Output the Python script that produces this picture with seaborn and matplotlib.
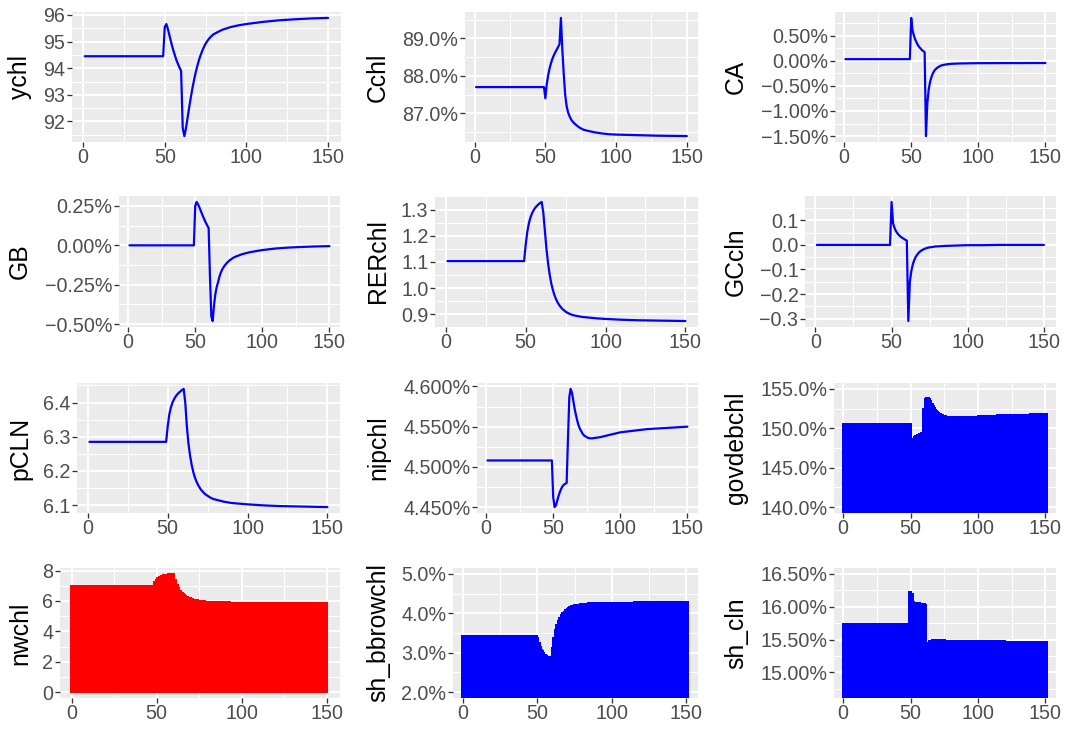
import matplotlib
matplotlib.use("Agg")
import matplotlib.pyplot as plt
from matplotlib.ticker import MultipleLocator, FuncFormatter
from matplotlib.transforms import blended_transform_factory
import seaborn as sns

# ---------------------------------------------------------------- data
# impulse responses, sampled periods for the line panels
T_LINE = [1, 49, 50, 51, 52, 53, 54, 55, 56, 57, 58, 59, 60, 61, 62, 63, 64, 65,
          66, 67, 68, 69, 70, 71, 72, 73, 74, 75, 76, 77, 78, 79, 80,
          85, 90, 95, 100, 110, 120, 130, 140, 150]

ychl = [94.45, 94.45, 95.55, 95.66, 95.45, 95.2, 94.95, 94.72, 94.52, 94.33, 94.17,
        94.03, 93.9, 91.75, 91.45, 91.75, 92.15, 92.55, 92.92, 93.27, 93.58, 93.86,
        94.1, 94.32, 94.5, 94.66, 94.8, 94.92, 95.02, 95.1, 95.17, 95.23, 95.28,
        95.44, 95.54, 95.61, 95.66, 95.74, 95.8, 95.84, 95.87, 95.89]

Cchl = [87.7, 87.7, 87.4, 87.78, 88.02, 88.2, 88.34, 88.46, 88.55, 88.63, 88.7,
        88.77, 88.85, 89.55, 88.7, 88.05, 87.5, 87.2, 87.03, 86.93, 86.85, 86.79,
        86.75, 86.71, 86.68, 86.65, 86.62, 86.6, 86.58, 86.56, 86.55, 86.54, 86.53,
        86.49, 86.46, 86.44, 86.43, 86.42, 86.41, 86.4, 86.395, 86.39]

CA = [0.03, 0.03, 0.85, 0.6, 0.5, 0.42, 0.36, 0.31, 0.27, 0.24, 0.21, 0.19, 0.17,
      -1.5, -0.85, -0.58, -0.43, -0.33, -0.26, -0.21, -0.175, -0.15, -0.13, -0.115,
      -0.1, -0.092, -0.085, -0.08, -0.075, -0.071, -0.068, -0.065, -0.063,
      -0.057, -0.054, -0.052, -0.05, -0.049, -0.048, -0.048, -0.047, -0.047]

GB = [0.0, 0.0, 0.25, 0.275, 0.262, 0.243, 0.222, 0.2, 0.18, 0.16, 0.142, 0.125,
      0.11, -0.2, -0.45, -0.48, -0.38, -0.31, -0.265, -0.235, -0.2, -0.175, -0.155,
      -0.14, -0.128, -0.117, -0.108, -0.1, -0.093, -0.087, -0.081, -0.076, -0.072,
      -0.056, -0.045, -0.037, -0.03, -0.02, -0.014, -0.01, -0.007, -0.005]

RERchl = [1.103, 1.103, 1.165, 1.215, 1.248, 1.27, 1.286, 1.298, 1.307, 1.314, 1.32,
          1.325, 1.329, 1.29, 1.22, 1.15, 1.095, 1.052, 1.018, 0.993, 0.973, 0.957,
          0.945, 0.935, 0.927, 0.92, 0.915, 0.91, 0.906, 0.903, 0.9, 0.898, 0.896,
          0.89, 0.887, 0.884, 0.882, 0.879, 0.877, 0.876, 0.875, 0.874]

GCcln = [0.0, 0.0, 0.175, 0.088, 0.068, 0.055, 0.046, 0.039, 0.033, 0.029, 0.025,
         0.021, 0.018, -0.31, -0.15, -0.105, -0.078, -0.06, -0.047, -0.038, -0.031,
         -0.025, -0.021, -0.018, -0.015, -0.013, -0.011, -0.01, -0.009, -0.008,
         -0.007, -0.006, -0.006, -0.004, -0.003, -0.002, -0.001, -0.001, 0.0, 0.0,
         0.0, 0.0]

pCLN = [6.285, 6.285, 6.33, 6.365, 6.386, 6.4, 6.41, 6.418, 6.424, 6.429, 6.433,
        6.437, 6.44, 6.4, 6.33, 6.28, 6.245, 6.218, 6.197, 6.181, 6.169, 6.159,
        6.151, 6.144, 6.139, 6.134, 6.13, 6.127, 6.124, 6.121, 6.119, 6.117, 6.116,
        6.11, 6.106, 6.104, 6.102, 6.099, 6.097, 6.096, 6.095, 6.094]

nipchl = [4.508, 4.508, 4.462, 4.45, 4.452, 4.458, 4.464, 4.469, 4.473, 4.476,
          4.478, 4.479, 4.48, 4.535, 4.587, 4.597, 4.592, 4.582, 4.572, 4.564,
          4.557, 4.551, 4.547, 4.544, 4.541, 4.539, 4.538, 4.537, 4.536, 4.5357,
          4.5355, 4.5355, 4.5357, 4.537, 4.539, 4.541, 4.543, 4.545, 4.547, 4.548,
          4.549, 4.55]

# per-period series shown as bars
T_NW = list(range(151))
nwchl = [6.98, 6.98, 6.98, 6.98, 6.98, 6.98, 6.98, 6.98, 6.98, 6.98,
         6.98, 6.98, 6.98, 6.98, 6.98, 6.98, 6.98, 6.98, 6.98, 6.98,
         6.98, 6.98, 6.98, 6.98, 6.98, 6.98, 6.98, 6.98, 6.98, 6.98,
         6.98, 6.98, 6.98, 6.98, 6.98, 6.98, 6.98, 6.98, 6.98, 6.98,
         6.98, 6.98, 6.98, 6.98, 6.98, 6.98, 6.98, 6.98, 6.98, 7.22,
         7.4, 7.52, 7.6, 7.65, 7.69, 7.71, 7.73, 7.75, 7.76, 7.77,
         7.78, 7.35, 7.05, 6.85, 6.68, 6.54, 6.43, 6.34, 6.27, 6.21,
         6.16, 6.12, 6.08, 6.05, 6.03, 6.01, 5.99, 5.98, 5.97, 5.96,
         5.95, 5.94, 5.94, 5.93, 5.93, 5.92, 5.92, 5.91, 5.91, 5.91,
         5.9, 5.9, 5.9, 5.9, 5.89, 5.89, 5.89, 5.89, 5.89, 5.89,
         5.88, 5.88, 5.88, 5.88, 5.88, 5.88, 5.88, 5.88, 5.88, 5.88,
         5.88, 5.88, 5.88, 5.88, 5.88, 5.88, 5.88, 5.88, 5.88, 5.88,
         5.88, 5.87, 5.87, 5.87, 5.87, 5.87, 5.87, 5.87, 5.87, 5.87,
         5.87, 5.87, 5.87, 5.87, 5.87, 5.87, 5.87, 5.87, 5.87, 5.87,
         5.87, 5.87, 5.87, 5.87, 5.87, 5.87, 5.87, 5.87, 5.87, 5.87,
         5.87]

T_BAR = list(range(152))
govdebchl = [150.5, 150.5, 150.5, 150.5, 150.5, 150.5, 150.5, 150.5, 150.5, 150.5,
             150.5, 150.5, 150.5, 150.5, 150.5, 150.5, 150.5, 150.5, 150.5, 150.5,
             150.5, 150.5, 150.5, 150.5, 150.5, 150.5, 150.5, 150.5, 150.5, 150.5,
             150.5, 150.5, 150.5, 150.5, 150.5, 150.5, 150.5, 150.5, 150.5, 150.5,
             150.5, 150.5, 150.5, 150.5, 150.5, 150.5, 150.5, 150.5, 150.5, 150.5,
             150.5, 148.25, 148.6, 148.85, 149.0, 149.1, 149.2, 149.28, 149.35, 149.42,
             152.5, 153.7, 153.9, 153.85, 153.65, 153.4, 153.1, 152.8, 152.52, 152.28,
             152.08, 151.92, 151.8, 151.7, 151.62, 151.56, 151.51, 151.47, 151.44, 151.42,
             151.41, 151.4, 151.4, 151.4, 151.4, 151.4, 151.4, 151.4, 151.4, 151.4,
             151.4, 151.41, 151.42, 151.43, 151.44, 151.45, 151.46, 151.47, 151.48, 151.49,
             151.5, 151.51, 151.52, 151.53, 151.54, 151.55, 151.56, 151.57, 151.58, 151.58,
             151.59, 151.6, 151.6, 151.61, 151.62, 151.62, 151.63, 151.64, 151.64, 151.65,
             151.65, 151.66, 151.66, 151.67, 151.67, 151.68, 151.68, 151.69, 151.69, 151.7,
             151.7, 151.71, 151.71, 151.72, 151.72, 151.73, 151.73, 151.74, 151.74, 151.75,
             151.75, 151.75, 151.76, 151.76, 151.77, 151.77, 151.78, 151.78, 151.79, 151.79,
             151.8, 151.8]

sh_bbrowchl = [3.43, 3.43, 3.43, 3.43, 3.43, 3.43, 3.43, 3.43, 3.43, 3.43,
               3.43, 3.43, 3.43, 3.43, 3.43, 3.43, 3.43, 3.43, 3.43, 3.43,
               3.43, 3.43, 3.43, 3.43, 3.43, 3.43, 3.43, 3.43, 3.43, 3.43,
               3.43, 3.43, 3.43, 3.43, 3.43, 3.43, 3.43, 3.43, 3.43, 3.43,
               3.43, 3.43, 3.43, 3.43, 3.43, 3.43, 3.43, 3.43, 3.43, 3.43,
               3.38, 3.25, 3.14, 3.06, 3.0, 2.95, 2.92, 2.9, 2.88, 2.87,
               3.12, 3.38, 3.57, 3.71, 3.81, 3.89, 3.95, 4.0, 4.04, 4.08,
               4.11, 4.14, 4.16, 4.18, 4.19, 4.2, 4.21, 4.22, 4.22, 4.23,
               4.23, 4.24, 4.24, 4.24, 4.25, 4.25, 4.25, 4.25, 4.26, 4.26,
               4.26, 4.26, 4.26, 4.27, 4.27, 4.27, 4.27, 4.27, 4.27, 4.27,
               4.27, 4.27, 4.27, 4.27, 4.27, 4.27, 4.27, 4.27, 4.27, 4.27,
               4.27, 4.27, 4.27, 4.27, 4.27, 4.28, 4.28, 4.28, 4.28, 4.28,
               4.28, 4.28, 4.28, 4.28, 4.28, 4.28, 4.28, 4.28, 4.28, 4.28,
               4.28, 4.28, 4.28, 4.28, 4.28, 4.28, 4.28, 4.28, 4.28, 4.28,
               4.28, 4.28, 4.28, 4.28, 4.28, 4.28, 4.28, 4.28, 4.28, 4.28,
               4.28, 4.28]

sh_cln = [15.74, 15.74, 15.74, 15.74, 15.74, 15.74, 15.74, 15.74, 15.74, 15.74,
          15.74, 15.74, 15.74, 15.74, 15.74, 15.74, 15.74, 15.74, 15.74, 15.74,
          15.74, 15.74, 15.74, 15.74, 15.74, 15.74, 15.74, 15.74, 15.74, 15.74,
          15.74, 15.74, 15.74, 15.74, 15.74, 15.74, 15.74, 15.74, 15.74, 15.74,
          15.74, 15.74, 15.74, 15.74, 15.74, 15.74, 15.74, 15.74, 15.74, 16.22,
          16.22, 16.2, 16.07, 16.06, 16.06, 16.05, 16.05, 16.05, 16.04, 16.04,
          16.04, 16.03, 15.42, 15.45, 15.47, 15.48, 15.49, 15.49, 15.49, 15.49,
          15.49, 15.49, 15.49, 15.49, 15.49, 15.49, 15.48, 15.48, 15.48, 15.48,
          15.48, 15.48, 15.48, 15.48, 15.48, 15.48, 15.48, 15.48, 15.48, 15.48,
          15.48, 15.47, 15.47, 15.47, 15.47, 15.47, 15.47, 15.47, 15.47, 15.47,
          15.47, 15.47, 15.47, 15.47, 15.47, 15.47, 15.47, 15.47, 15.47, 15.47,
          15.47, 15.47, 15.47, 15.47, 15.47, 15.47, 15.47, 15.47, 15.47, 15.47,
          15.47, 15.46, 15.46, 15.46, 15.46, 15.46, 15.46, 15.46, 15.46, 15.46,
          15.46, 15.46, 15.46, 15.46, 15.46, 15.46, 15.46, 15.46, 15.46, 15.46,
          15.46, 15.46, 15.46, 15.46, 15.46, 15.46, 15.46, 15.46, 15.46, 15.46,
          15.46, 15.46]

# ---------------------------------------------------------------- style
sns.set_theme(style="darkgrid", rc={
    "axes.facecolor": "#EBEBEB",
    "grid.color": "white",
    "axes.edgecolor": "#EBEBEB",
})
plt.rcParams["font.family"] = ["Liberation Sans", "DejaVu Sans"]

W, H = 1074, 734
fig = plt.figure(figsize=(W / 100, H / 100), dpi=100)
fig.patch.set_facecolor("white")

TICK_SIZE = 14.2
LABEL_SIZE = 17.8
COL_LEFT = [0, 358, 716]


def make_formatter(decimals, suffix):
    def _fmt(v, _pos):
        r = round(v, decimals)
        if r == 0:
            r = 0.0
        s = f"{abs(r):.{decimals}f}{suffix}"
        return "\u2212" + s if r < 0 else s
    return FuncFormatter(_fmt)


# name, kind, x, y, colour, (left, right, top, bottom) in px, column,
# tick step, decimals, suffix, fixed y-limits
panels = [
    ("ychl", "line", T_LINE, ychl, "blue", (72, 341, 12, 142), 0, 1, 0, "", None),
    ("Cchl", "line", T_LINE, Cchl, "blue", (465, 698, 12, 142), 1, 1, 1, "%", None),
    ("CA", "line", T_LINE, CA, "blue", (835, 1056, 12, 142), 2, 0.5, 2, "%", None),
    ("GB", "line", T_LINE, GB, "blue", (119, 340, 196, 327), 0, 0.25, 2, "%", None),
    ("RERchl", "line", T_LINE, RERchl, "blue", (435, 698, 196, 327), 1, 0.1, 1, "", None),
    ("GCcln", "line", T_LINE, GCcln, "blue", (805, 1056, 196, 327), 2, 0.1, 1, "", None),
    ("pCLN", "line", T_LINE, pCLN, "blue", (77, 340, 383, 513), 0, 0.1, 1, "", None),
    ("nipchl", "line", T_LINE, nipchl, "blue", (477, 698, 383, 513), 1, 0.05, 3, "%", None),
    ("govdebchl", "bar", T_BAR, govdebchl, "blue", (834, 1056, 383, 513), 2, 5, 1, "%", (139.25, 155.75)),
    ("nwchl", "bar", T_NW, nwchl, "red", (60, 340, 568, 698), 0, 2, 0, "", (-0.39, 8.17)),
    ("sh_bbrowchl", "bar", T_BAR, sh_bbrowchl, "blue", (453, 698, 568, 698), 1, 1, 1, "%", (1.85, 5.15)),
    ("sh_cln", "bar", T_BAR, sh_cln, "blue", (834, 1056, 568, 698), 2, 0.5, 2, "%", (14.61, 16.59)),
]

for (name, kind, xs, ys, colour, box, col, step, dec, suffix, ylim) in panels:
    left, right, top, bottom = box
    ax = fig.add_axes([left / W, 1 - bottom / H, (right - left) / W, (bottom - top) / H])

    if kind == "line":
        sns.lineplot(x=xs, y=ys, ax=ax, color=colour, linewidth=1.6)
    else:
        sns.barplot(x=xs, y=ys, ax=ax, native_scale=True, width=0.9,
                    color=colour, saturation=1, errorbar=None,
                    edgecolor=colour, linewidth=0.8)
        # neighbouring bars sit less than a pixel apart: draw them crisp
        # so the run of bars reads as one solid block
        for patch in ax.patches:
            patch.set_snap(False)
            patch.set_antialiased(False)
            patch.set_facecolor(colour)
            patch.set_edgecolor(colour)
            patch.set_linewidth(0.8)

    ax.set_xlim(-6.8, 157.9)
    if ylim is not None:
        ax.set_ylim(*ylim)

    ax.xaxis.set_major_locator(MultipleLocator(50))
    ax.xaxis.set_minor_locator(MultipleLocator(25))
    ax.xaxis.set_major_formatter(FuncFormatter(lambda v, p: f"{v:.0f}"))
    ax.yaxis.set_major_locator(MultipleLocator(step))
    ax.yaxis.set_minor_locator(MultipleLocator(step / 2))
    ax.yaxis.set_major_formatter(make_formatter(dec, suffix))

    ax.set_axisbelow(True)
    ax.grid(which="major", color="white", linewidth=1.4)
    ax.grid(which="minor", color="white", linewidth=0.7)
    for sp in ax.spines.values():
        sp.set_visible(False)

    ax.tick_params(axis="both", which="major", length=3.6, width=0.95,
                   color="#333333", labelcolor="#4D4D4D", labelsize=TICK_SIZE,
                   bottom=True, left=True)
    ax.tick_params(axis="x", which="major", pad=1.0)
    ax.tick_params(axis="y", which="major", pad=1.1)
    ax.tick_params(which="minor", length=0)

    ax.set_xlabel("")
    ax.set_ylabel(name, fontsize=LABEL_SIZE, color="black")
    trans = blended_transform_factory(fig.transFigure, ax.transAxes)
    ax.yaxis.set_label_coords((COL_LEFT[col] + 32) / W, 0.5, transform=trans)

fig.savefig("out.png", dpi=100, facecolor="white")
